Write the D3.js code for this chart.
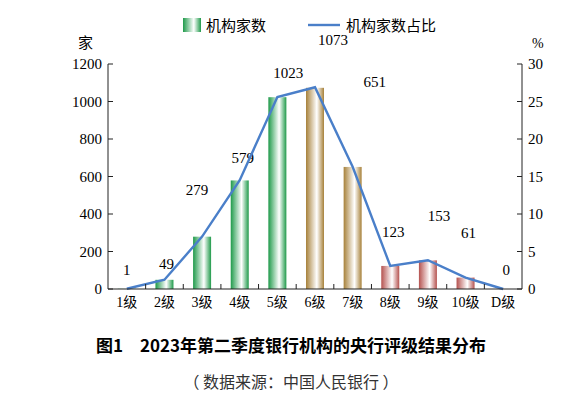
<!DOCTYPE html><html><head><meta charset="utf-8"><script src="https://cdn.jsdelivr.net/npm/d3@7"></script>
<style>body{margin:0;background:#fff}text{font-family:"Liberation Serif","Noto Sans CJK SC",serif}</style></head><body><svg id="c" width="583" height="418"></svg>
<script>
const categories=["1级","2级","3级","4级","5级","6级","7级","8级","9级","10级","D级"];
const counts=[1,49,279,579,1023,1073,651,123,153,61,0];
const shares=[0.03,1.23,6.99,14.5,25.6,26.9,16.3,3.08,3.83,1.53,0];
const groups=["g","g","g","g","g","y","y","r","r","r","r"];
const leftTicks=[0,200,400,600,800,1000,1200];
const rightTicks=[0,5,10,15,20,25,30];
const labelDx=[0,2,-5,3,11,18,22,3,11,3,3];
const labelDy=[-19,-16,-47,-22,-24,-48,-85,-34,-44,-45,-19];
const svg=d3.select("#c");
const x=d3.scaleBand().domain(categories).range([108,522]);
const yL=d3.scaleLinear().domain([0,1200]).range([289,64]);
const yR=d3.scaleLinear().domain([0,30]).range([289,64]);
const cols={g:"#1f9a4a",y:"#a7813a",r:"#b5524f"};
const defs=svg.append("defs");
Object.entries(cols).forEach(([k,c])=>{const g=defs.append("linearGradient").attr("id","gr"+k);
[[0,c],[0.6,"#fff"],[1,c]].forEach(([o,s])=>g.append("stop").attr("offset",o).attr("stop-color",s));});
const bw=18;
const cx=i=>x(categories[i])+x.bandwidth()/2;
svg.selectAll(".b").data(counts).join("rect").attr("x",(d,i)=>cx(i)-bw/2)
 .attr("y",d=>yL(d)).attr("width",bw).attr("height",d=>289-yL(d)).attr("fill",(d,i)=>"url(#gr"+groups[i]+")");
svg.selectAll(".v").data(counts).join("text").attr("x",(d,i)=>cx(i)+labelDx[i]).attr("y",(d,i)=>yL(d)+labelDy[i]+5)
 .attr("text-anchor","middle").attr("font-size",15).text(d=>d);
const line=d3.line().x((d,i)=>cx(i)).y(d=>yR(d));
svg.append("path").attr("d",line(shares)).attr("fill","none").attr("stroke","#4a7fc9").attr("stroke-width",2.4);
const ax=svg.append("g").attr("stroke","#222").attr("fill","none");
ax.append("line").attr("x1",108).attr("x2",108).attr("y1",64).attr("y2",289);
ax.append("line").attr("x1",522).attr("x2",522).attr("y1",64).attr("y2",289);
ax.append("line").attr("x1",108).attr("x2",522).attr("y1",289).attr("y2",289);
leftTicks.forEach(t=>{ax.append("line").attr("x1",108).attr("x2",113).attr("y1",yL(t)).attr("y2",yL(t));
 svg.append("text").attr("x",102).attr("y",yL(t)+5).attr("text-anchor","end").attr("font-size",15).text(t);});
rightTicks.forEach(t=>{ax.append("line").attr("x1",517).attr("x2",522).attr("y1",yR(t)).attr("y2",yR(t));
 svg.append("text").attr("x",528).attr("y",yR(t)+5).attr("font-size",15).text(t);});
categories.forEach((c,i)=>{if(i>0)ax.append("line").attr("x1",x(c)).attr("x2",x(c)).attr("y1",289).attr("y2",284);
 svg.append("text").attr("x",cx(i)).attr("y",307).attr("text-anchor","middle").attr("font-size",14).text(c);});
svg.append("text").attr("x",78).attr("y",48).attr("font-size",15).text("家");
svg.append("text").attr("x",532).attr("y",48).attr("font-size",14).text("%");
svg.append("rect").attr("x",183).attr("y",18).attr("width",18).attr("height",14).attr("fill","url(#grg)");
svg.append("text").attr("x",206).attr("y",31).attr("font-size",15).text("机构家数");
svg.append("line").attr("x1",308).attr("x2",340).attr("y1",25).attr("y2",25).attr("stroke","#4a7fc9").attr("stroke-width",2.4);
svg.append("text").attr("x",346).attr("y",31).attr("font-size",15).text("机构家数占比");
svg.append("text").attr("x",291).attr("y",352).attr("text-anchor","middle").attr("font-size",17).attr("font-weight","bold").style("font-family","Noto Sans CJK SC").text("图1　2023年第二季度银行机构的央行评级结果分布");
svg.append("text").attr("x",291).attr("y",388).attr("text-anchor","middle").attr("font-size",16).attr("fill","#333").style("font-family","Noto Sans CJK SC").text("（ 数据来源：中国人民银行 ）");
</script></body></html>
